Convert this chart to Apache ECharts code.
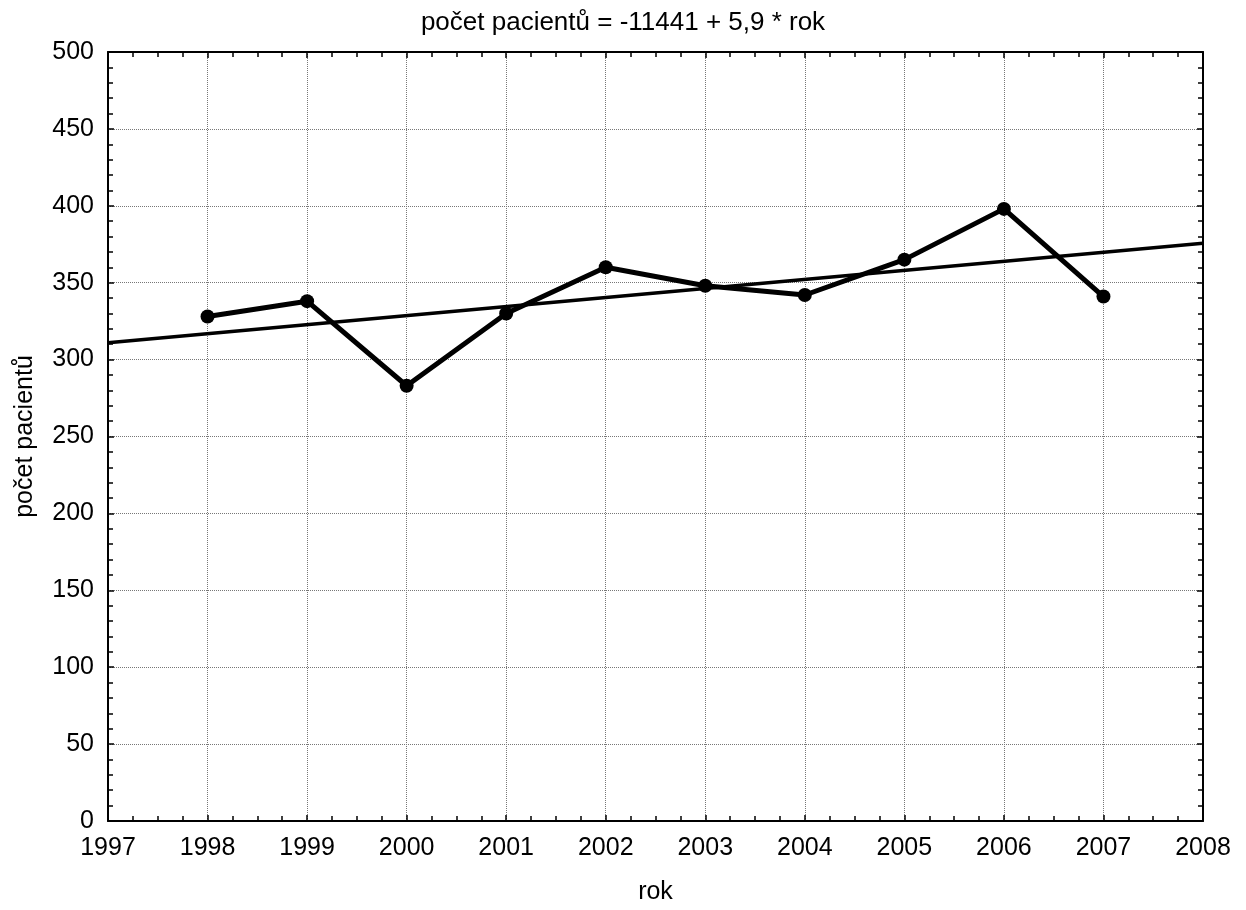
<!DOCTYPE html>
<html><head><meta charset="utf-8">
<script src="https://cdn.jsdelivr.net/npm/echarts@6/dist/echarts.min.js"></script>
<style>html,body{margin:0;padding:0;background:#fff}#c{width:1246px;height:910px}</style>
</head><body><div id="c"></div>
<script>
const years = [1998, 1999, 2000, 2001, 2002, 2003, 2004, 2005, 2006, 2007];
const patients = [328, 338, 283, 330, 360, 348, 342, 365, 398, 341];
const titleText = 'počet pacientů = -11441 + 5,9 * rok';
const xName = 'rok';
const yName = 'počet pacientů';
const xRange = [1997, 2008];

// least-squares regression from the data
const n = years.length;
const mx = years.reduce((a, b) => a + b, 0) / n;
const my = patients.reduce((a, b) => a + b, 0) / n;
let sxy = 0, sxx = 0;
for (let i = 0; i < n; i++) { sxy += (years[i] - mx) * (patients[i] - my); sxx += (years[i] - mx) ** 2; }
const slope = sxy / sxx, icpt = my - slope * mx;
const fitData = xRange.map(x => [x, icpt + slope * x]);

const FONT = '"Liberation Sans", Arial, sans-serif';
const FS = 25;
const axisLine = { show: true, onZero: false, lineStyle: { color: '#000', width: 2 } };
const tick = { show: true, inside: true, length: 6, lineStyle: { color: '#000', width: 1.5 } };
const grid = { left: 108, right: 43, top: 52, bottom: 87 };

const chart = echarts.init(document.getElementById('c'), null, { renderer: 'canvas' });
chart.setOption({
  animation: false,
  backgroundColor: '#fff',
  title: { text: titleText, left: 'center', top: 5, textStyle: { fontFamily: FONT, fontSize: 26, fontWeight: 'normal', color: '#000' } },
  grid: grid,
  xAxis: [{
    type: 'value', min: xRange[0], max: xRange[1], interval: 1,
    name: xName, nameLocation: 'middle', nameGap: 59,
    nameTextStyle: { fontFamily: FONT, fontSize: FS, color: '#000' },
    axisLine: axisLine, axisTick: tick,
    minorTick: { show: true, splitNumber: 4, length: 5, lineStyle: { color: '#000', width: 1.5 } },
    axisLabel: { fontFamily: FONT, fontSize: FS, color: '#000', margin: 15, formatter: v => String(v) },
    splitLine: { show: true, lineStyle: { color: '#777', type: [1, 1], width: 1 } }
  }, {
    type: 'value', position: 'top', min: xRange[0], max: xRange[1], interval: 1,
    axisLine: axisLine, axisTick: tick,
    minorTick: { show: true, splitNumber: 4, length: 5, lineStyle: { color: '#000', width: 1.5 } },
    axisLabel: { show: false }, splitLine: { show: false }
  }],
  yAxis: [{
    type: 'value', min: 0, max: 500, interval: 50,
    name: yName, nameLocation: 'middle', nameGap: 70, nameRotate: 90,
    nameTextStyle: { fontFamily: FONT, fontSize: FS, color: '#000' },
    axisLine: axisLine, axisTick: tick,
    minorTick: { show: true, splitNumber: 5, length: 5, lineStyle: { color: '#000', width: 1.5 } },
    axisLabel: { fontFamily: FONT, fontSize: FS, color: '#000', margin: 14 },
    splitLine: { show: true, lineStyle: { color: '#777', type: [1, 1], width: 1 } }
  }, {
    type: 'value', position: 'right', min: 0, max: 500, interval: 50,
    axisLine: axisLine, axisTick: tick,
    minorTick: { show: true, splitNumber: 5, length: 5, lineStyle: { color: '#000', width: 1.5 } },
    axisLabel: { show: false }, splitLine: { show: false }
  }],
  series: [{
    type: 'line', xAxisIndex: 0, yAxisIndex: 0,
    data: fitData, showSymbol: false, symbol: 'none',
    lineStyle: { color: '#000', width: 3.5 }, z: 3
  }, {
    type: 'line', xAxisIndex: 0, yAxisIndex: 0,
    data: years.map((y, i) => [y, patients[i]]),
    symbol: 'circle', symbolSize: 14, showAllSymbol: true,
    itemStyle: { color: '#000' },
    lineStyle: { color: '#000', width: 5 }, z: 4
  }]
});
</script></body></html>
